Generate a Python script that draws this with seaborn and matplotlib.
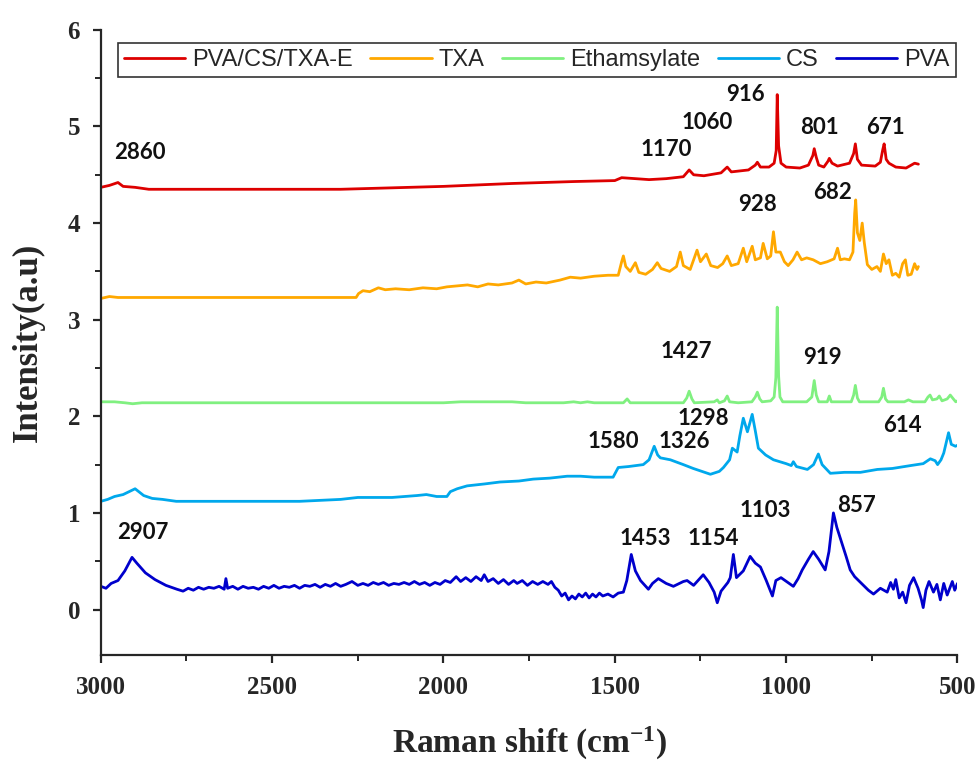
import numpy as np
import pandas as pd
import matplotlib
matplotlib.use("Agg")
import matplotlib.pyplot as plt
from matplotlib.ticker import MultipleLocator
import seaborn as sns

# ---- Raman spectra (Raman shift in cm-1, offset intensity in a.u.) ----
pva_cs_txa_x = [3000, 2975, 2950, 2935, 2900, 2860, 2700, 2500, 2300, 2200, 2000, 1800, 1620,
                1500, 1480, 1440, 1400, 1350, 1300, 1283, 1270, 1240, 1190, 1172, 1160, 1110,
                1090, 1084, 1075, 1050, 1035, 1029, 1026, 1022, 1015, 1000, 960, 935, 922, 918,
                912, 905, 890, 878, 874, 866, 850, 815, 803, 798, 792, 780, 740, 725, 718, 714,
                708, 700, 680, 650, 635, 625, 614]
pva_cs_txa_y = [4.37, 4.39, 4.42, 4.38, 4.37, 4.35, 4.35, 4.35, 4.35, 4.36, 4.38, 4.41, 4.43,
                4.44, 4.47, 4.46, 4.45, 4.46, 4.48, 4.55, 4.50, 4.49, 4.52, 4.58, 4.53, 4.55,
                4.60, 4.63, 4.58, 4.58, 4.62, 4.75, 5.33, 4.80, 4.62, 4.58, 4.57, 4.60, 4.70, 4.77,
                4.68, 4.60, 4.58, 4.64, 4.67, 4.62, 4.59, 4.62, 4.72, 4.82, 4.66, 4.60, 4.59, 4.63,
                4.76, 4.82, 4.66, 4.62, 4.58, 4.57, 4.60, 4.62, 4.61]

txa_x = [3000, 2975, 2950, 2900, 2600, 2400, 2255, 2248, 2235, 2215, 2190, 2170, 2140, 2100,
         2060, 2020, 1990, 1960, 1930, 1900, 1870, 1840, 1800, 1780, 1760, 1730, 1700, 1660,
         1630, 1600, 1560, 1520, 1490, 1480, 1475, 1468, 1455, 1440, 1430, 1410, 1390, 1376,
         1365, 1340, 1320, 1309, 1300, 1280, 1260, 1250, 1233, 1220, 1200, 1185, 1172, 1160,
         1140, 1125, 1115, 1099, 1090, 1075, 1067, 1055, 1045, 1037, 1030, 1017, 1005, 994,
         980, 968, 955, 940, 921, 900, 880, 860, 850, 842, 830, 815, 805, 800, 797, 792, 785,
         778, 772, 763, 750, 735, 725, 716, 708, 700, 690, 680, 670, 660, 652, 645, 635, 625,
         618, 614]
txa_y = [3.22, 3.24, 3.23, 3.23, 3.23, 3.23, 3.23, 3.27, 3.30, 3.29, 3.33, 3.31, 3.32, 3.31,
         3.33, 3.32, 3.34, 3.35, 3.36, 3.34, 3.37, 3.36, 3.38, 3.41, 3.37, 3.39, 3.38, 3.41,
         3.44, 3.43, 3.45, 3.46, 3.46, 3.60, 3.66, 3.55, 3.50, 3.59, 3.49, 3.47, 3.52, 3.59,
         3.53, 3.50, 3.55, 3.70, 3.56, 3.52, 3.72, 3.60, 3.68, 3.56, 3.54, 3.58, 3.66, 3.56,
         3.58, 3.74, 3.60, 3.76, 3.62, 3.64, 3.79, 3.63, 3.66, 3.91, 3.70, 3.70, 3.60, 3.56,
         3.62, 3.70, 3.62, 3.64, 3.62, 3.58, 3.60, 3.63, 3.74, 3.62, 3.63, 3.62, 3.70, 4.10,
         4.24, 3.90, 3.82, 4.00, 3.80, 3.57, 3.52, 3.55, 3.50, 3.68, 3.58, 3.62, 3.46, 3.48,
         3.44, 3.58, 3.62, 3.46, 3.47, 3.58, 3.52, 3.55]

etham_x = [3000, 2960, 2930, 2907, 2880, 2500, 2000, 1950, 1880, 1800, 1760, 1650, 1620, 1600,
           1580, 1560, 1475, 1464, 1455, 1300, 1290, 1283, 1275, 1268, 1210, 1201, 1195, 1180,
           1172, 1165, 1140, 1100, 1090, 1084, 1077, 1070, 1045, 1035, 1030, 1026, 1022, 1018,
           1010, 940, 925, 918, 912, 905, 880, 874, 868, 810, 803, 798, 792, 786, 730, 721, 716,
           710, 703, 655, 643, 630, 595, 586, 580, 573, 560, 553, 545, 530, 521, 512, 505, 500]
etham_y = [2.15, 2.15, 2.14, 2.13, 2.14, 2.14, 2.14, 2.15, 2.15, 2.15, 2.14, 2.14, 2.15, 2.14,
           2.15, 2.14, 2.14, 2.18, 2.14, 2.14, 2.19, 2.26, 2.18, 2.14, 2.15, 2.17, 2.14, 2.16,
           2.21, 2.15, 2.14, 2.15, 2.20, 2.25, 2.18, 2.15, 2.16, 2.20, 2.40, 3.13, 2.42, 2.20,
           2.15, 2.15, 2.20, 2.37, 2.22, 2.15, 2.15, 2.21, 2.15, 2.15, 2.22, 2.32, 2.19, 2.15,
           2.15, 2.20, 2.29, 2.18, 2.15, 2.15, 2.17, 2.15, 2.15, 2.20, 2.22, 2.17, 2.18, 2.21,
           2.16, 2.18, 2.22, 2.18, 2.15, 2.16]

cs_x = [3000, 2980, 2960, 2935, 2900, 2875, 2850, 2820, 2780, 2600, 2420, 2300, 2250, 2150,
        2077, 2050, 2020, 1990, 1980, 1960, 1931, 1880, 1835, 1780, 1738, 1690, 1639, 1600,
        1560, 1520, 1505, 1490, 1460, 1417, 1400, 1385, 1375, 1367, 1338, 1300, 1271, 1221,
        1195, 1183, 1165, 1157, 1143, 1135, 1125, 1113, 1099, 1090, 1081, 1060, 1037, 1000,
        985, 979, 970, 938, 920, 906, 895, 871, 830, 783, 734, 690, 637, 600, 579, 565, 558,
        548, 540, 526, 518, 506, 500]
cs_y = [1.12, 1.14, 1.17, 1.19, 1.25, 1.18, 1.15, 1.14, 1.12, 1.12, 1.12, 1.14, 1.16, 1.16,
        1.18, 1.19, 1.17, 1.17, 1.22, 1.25, 1.28, 1.30, 1.32, 1.33, 1.35, 1.36, 1.38, 1.38,
        1.37, 1.37, 1.37, 1.47, 1.48, 1.50, 1.55, 1.69, 1.60, 1.57, 1.55, 1.50, 1.46, 1.40,
        1.43, 1.47, 1.55, 1.67, 1.63, 1.80, 1.98, 1.84, 2.02, 1.85, 1.67, 1.60, 1.55, 1.51,
        1.49, 1.53, 1.48, 1.45, 1.50, 1.61, 1.50, 1.41, 1.42, 1.42, 1.45, 1.46, 1.49, 1.51,
        1.56, 1.54, 1.50, 1.55, 1.62, 1.83, 1.71, 1.69, 1.70]

pva_x = [3000, 2985, 2970, 2950, 2930, 2909, 2895, 2870, 2842, 2810, 2778, 2760, 2745, 2730,
         2715, 2700, 2685, 2670, 2655, 2640, 2635, 2630, 2615, 2600, 2585, 2570, 2555, 2540,
         2525, 2510, 2495, 2480, 2465, 2450, 2435, 2420, 2405, 2390, 2375, 2360, 2345, 2330,
         2315, 2300, 2285, 2267, 2250, 2235, 2220, 2205, 2190, 2175, 2160, 2145, 2130, 2115,
         2100, 2085, 2070, 2055, 2040, 2025, 2010, 1995, 1980, 1963, 1950, 1935, 1920, 1905,
         1890, 1881, 1870, 1855, 1840, 1825, 1810, 1795, 1785, 1770, 1755, 1740, 1725, 1710,
         1695, 1685, 1675, 1665, 1655, 1645, 1635, 1625, 1615, 1605, 1595, 1585, 1575, 1565,
         1555, 1545, 1535, 1520, 1505, 1490, 1475, 1465, 1452, 1440, 1425, 1402, 1390, 1373,
         1350, 1329, 1300, 1289, 1270, 1242, 1225, 1210, 1201, 1190, 1170, 1163, 1154, 1145,
         1125, 1105, 1090, 1075, 1058, 1040, 1030, 1015, 995, 979, 965, 953, 935, 921, 905,
         886, 875, 862, 852, 842, 825, 813, 800, 783, 760, 745, 725, 705, 695, 687, 680, 670,
         660, 650, 640, 628, 615, 605, 600, 592, 583, 570, 560, 550, 540, 530, 515, 508, 500]
pva_y = [0.24, 0.22, 0.27, 0.30, 0.40, 0.54, 0.48, 0.38, 0.31, 0.25, 0.21, 0.19, 0.22, 0.20,
         0.23, 0.21, 0.23, 0.22, 0.24, 0.21, 0.32, 0.22, 0.24, 0.21, 0.24, 0.22, 0.23, 0.21,
         0.24, 0.22, 0.25, 0.22, 0.24, 0.23, 0.25, 0.22, 0.25, 0.24, 0.26, 0.23, 0.26, 0.24,
         0.27, 0.24, 0.26, 0.29, 0.25, 0.27, 0.25, 0.28, 0.26, 0.28, 0.25, 0.27, 0.26, 0.28,
         0.26, 0.29, 0.26, 0.28, 0.25, 0.28, 0.26, 0.30, 0.28, 0.34, 0.29, 0.33, 0.29, 0.34,
         0.30, 0.36, 0.29, 0.32, 0.27, 0.31, 0.26, 0.30, 0.27, 0.30, 0.25, 0.29, 0.26, 0.29,
         0.26, 0.29, 0.23, 0.20, 0.14, 0.17, 0.10, 0.14, 0.11, 0.16, 0.13, 0.17, 0.12, 0.16,
         0.13, 0.17, 0.14, 0.16, 0.13, 0.17, 0.18, 0.30, 0.57, 0.40, 0.30, 0.21, 0.27, 0.32,
         0.27, 0.24, 0.29, 0.30, 0.25, 0.36, 0.28, 0.18, 0.07, 0.19, 0.28, 0.33, 0.57, 0.33,
         0.40, 0.55, 0.48, 0.44, 0.30, 0.14, 0.30, 0.33, 0.28, 0.24, 0.32, 0.41, 0.52, 0.60,
         0.52, 0.41, 0.60, 1.00, 0.85, 0.74, 0.55, 0.41, 0.34, 0.28, 0.20, 0.16, 0.22, 0.18,
         0.28, 0.21, 0.31, 0.12, 0.18, 0.07, 0.25, 0.33, 0.22, 0.10, 0.02, 0.20, 0.29, 0.18,
         0.26, 0.10, 0.27, 0.15, 0.29, 0.20, 0.27]

series_names = ["PVA/CS/TXA-E", "TXA", "Ethamsylate", "CS", "PVA"]
series_colors = ["#DD0000", "#FFA800", "#80F080", "#00A8EC", "#0000CC"]

# peak annotations: text, x, y
peak_labels = ["2860", "1170", "1060", "916", "801", "671",
               "928", "682",
               "1427", "919",
               "1580", "1326", "1298", "614",
               "2907", "1453", "1154", "1103", "857"]
peak_label_x = [2886, 1350, 1230, 1119, 902, 710,
                1085, 866,
                1291, 894,
                1505, 1297, 1242, 661,
                2877, 1411, 1213, 1061, 795]
peak_label_y = [4.73, 4.76, 5.04, 5.33, 4.99, 4.99,
                4.19, 4.32,
                2.67, 2.61,
                1.74, 1.74, 1.98, 1.91,
                0.80, 0.73, 0.73, 1.02, 1.08]

frames = []
for name, xs, ys in zip(series_names,
                        [pva_cs_txa_x, txa_x, etham_x, cs_x, pva_x],
                        [pva_cs_txa_y, txa_y, etham_y, cs_y, pva_y]):
    frames.append(pd.DataFrame({"shift": xs, "intensity": ys, "sample": name}))
data = pd.concat(frames, ignore_index=True)

sns.set_style("ticks")
plt.rcParams["font.family"] = ["Liberation Serif", "DejaVu Serif"]
plt.rcParams["mathtext.fontset"] = "custom"
plt.rcParams["mathtext.rm"] = "Liberation Serif:bold"
plt.rcParams["mathtext.bf"] = "Liberation Serif:bold"
plt.rcParams["mathtext.it"] = "Liberation Serif:bold"

fig = plt.figure(figsize=(9.79, 7.66), dpi=100)
ax = fig.add_axes([0.103, 0.145, 0.875, 0.816])

for name, color in zip(series_names, series_colors):
    sub = data[data["sample"] == name]
    sns.lineplot(data=sub, x="shift", y="intensity", color=color, label=name,
                 sort=False, linewidth=2.0, ax=ax, legend=False)

ax.set_xlim(3000, 500)
ax.set_ylim(-0.47, 6)
ax.xaxis.set_major_locator(MultipleLocator(500))
ax.xaxis.set_minor_locator(MultipleLocator(250))
ax.yaxis.set_major_locator(MultipleLocator(1))
ax.yaxis.set_minor_locator(MultipleLocator(0.5))

for side in ["left", "bottom"]:
    ax.spines[side].set_linewidth(1.6)
ax.spines["top"].set_visible(False)
ax.spines["right"].set_visible(False)
ax.tick_params(which="major", direction="out", length=6, width=1.6,
               labelsize=18, pad=6)
ax.tick_params(which="minor", direction="out", length=4, width=1.4)
for lab in ax.get_xticklabels() + ax.get_yticklabels():
    lab.set_fontweight("bold")
ax.xaxis.set_tick_params(pad=9)
ax.yaxis.set_tick_params(pad=9)

ax.set_xlabel(r"Raman shift (cm$^{-1}$)", fontsize=24, fontweight="bold", labelpad=19)
ax.set_ylabel("Intensity(a.u)", fontsize=25, fontweight="bold", labelpad=16)

for txt, px, py in zip(peak_labels, peak_label_x, peak_label_y):
    ax.text(px, py, txt, ha="center", va="center", fontsize=16,
            fontweight="bold", family=["Lato", "DejaVu Sans"], color="#111111")

handles = ax.get_lines()[:5]
leg = ax.legend(handles, series_names, loc="lower left", ncol=5, mode="expand",
                bbox_to_anchor=(0.02, 0.925, 0.978, 0.06), borderaxespad=0,
                frameon=True, fancybox=False, edgecolor="black",
                prop={"family": ["Liberation Sans", "DejaVu Sans"], "size": 17},
                handlelength=2.6, handletextpad=0.3, columnspacing=0.2,
                borderpad=0.25)
leg.get_frame().set_linewidth(1.2)

fig.savefig("out.png", dpi=100)
